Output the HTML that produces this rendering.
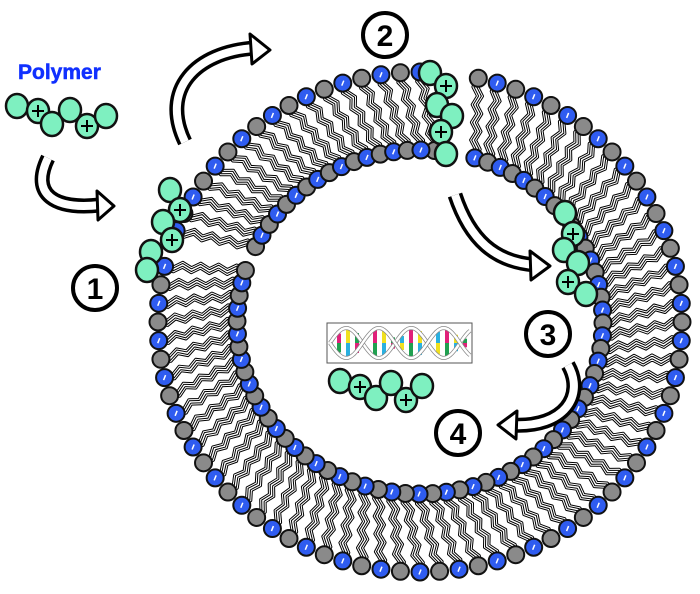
<!DOCTYPE html>
<html><head><meta charset="utf-8"><style>
html,body{margin:0;padding:0;background:#fff;width:700px;height:594px;overflow:hidden}
svg{display:block}
</style></head><body>
<svg id="s" width="700" height="594" viewBox="0 0 700 594" xmlns="http://www.w3.org/2000/svg">
<g id="lip"></g>
<g id="fg">
<g fill="none" stroke-linecap="butt">
<path d="M185,142 C160,90 195,52 255,48" stroke="#000" stroke-width="15"/>
<path d="M185,142 C160,90 195,52 255,48" stroke="#fff" stroke-width="8"/>
<path d="M48,158 C30,195 55,210 100,205" stroke="#000" stroke-width="15"/>
<path d="M48,158 C30,195 55,210 100,205" stroke="#fff" stroke-width="8"/>
<path d="M455,195 C470,240 495,262 535,265" stroke="#000" stroke-width="15"/>
<path d="M455,195 C470,240 495,262 535,265" stroke="#fff" stroke-width="8"/>
<path d="M568,365 C585,395 565,428 512,425" stroke="#000" stroke-width="15"/>
<path d="M568,365 C585,395 565,428 512,425" stroke="#fff" stroke-width="8"/>
</g>
<g fill="#fff" stroke="#000" stroke-width="3" stroke-linejoin="round">
<polygon points="250,34 270,50 252,64"/>
<polygon points="97,191 114,206 98,220"/>
<polygon points="530,251 550,266 531,280"/>
<polygon points="517,411 498,425 516,439"/>
</g>
<g fill="#fff" stroke="#000" stroke-width="4">
<circle cx="95" cy="288" r="22"/>
<circle cx="385" cy="35" r="22"/>
<circle cx="548" cy="334" r="22"/>
<circle cx="458" cy="433" r="22"/>
</g>
<g font-family="Liberation Sans, sans-serif" font-weight="bold" font-size="30" text-anchor="middle">
<text x="95" y="299">1</text>
<text x="385" y="46">2</text>
<text x="548" y="345">3</text>
<text x="458" y="444">4</text>
</g>
<text x="18" y="79" font-family="Liberation Sans, sans-serif" font-weight="bold" font-size="21" fill="#1030ff" stroke="#1030ff" stroke-width="0.5">Polymer</text>
<g>
<rect x="327" y="323" width="145" height="40" fill="#fff" stroke="#555" stroke-width="1"/>
<g id="dna"></g>
</g>
<g id="poly"></g>
</g>
</svg>
<script>
var NS="http://www.w3.org/2000/svg";
function el(p,t,a){var e=document.createElementNS(NS,t);for(var k in a)e.setAttribute(k,a[k]);p.appendChild(e);return e;}
var lip=document.getElementById('lip');
var tails=el(lip,'g',{}),heads=el(lip,'g',{});
var cx=420,cy=322,N=84;
function zig(x1,y1,x2,y2,off){
 var dx=x2-x1,dy=y2-y1,L=Math.hypot(dx,dy),ux=dx/L,uy=dy/L,px=-uy,py=ux,n=9,pts=[];
 for(var j=0;j<=n;j++){var t=j/n,amp=(j==0||j==n)?0:(j%2?2.5:-2.5);
  pts.push((x1+dx*t+px*(amp+off)).toFixed(1)+","+(y1+dy*t+py*(amp+off)).toFixed(1));}
 var s=pts.join(" ");
 el(tails,'polyline',{points:s,fill:'none',stroke:'#000','stroke-width':3,'stroke-linejoin':'round'});
 el(tails,'polyline',{points:s,fill:'none',stroke:'#fff','stroke-width':1});
}
function head(x,y,blue){
 el(heads,'circle',{cx:x,cy:y,r:8.5,fill:blue?'#2f5cf0':'#8a8a8a',stroke:'#111','stroke-width':2});
 if(blue)el(heads,'line',{x1:x-1,y1:y+2.5,x2:x+1,y2:y-2.5,stroke:'#fff','stroke-width':1.5});
}
for(var i=0;i<N;i++){
 var a=-Math.PI/2+2*Math.PI*i/N;
 var deg=a*180/Math.PI;
 if(deg>180)deg-=360;
 if(deg>-165&&deg<-159)continue;
 if(deg>-86&&deg<-80)continue;
 var b=a+0.08;
 var ox=cx+262*Math.cos(a),oy=cy+250*Math.sin(a);
 var ix=cx+183*Math.cos(b),iy=cy+172*Math.sin(b);
 zig(ox,oy,ix,iy,-2.5);zig(ox,oy,ix,iy,2.5);
 head(ox,oy,i%2==0);head(ix,iy,i%2==1);
}
var poly=document.getElementById('poly');
function chain(pts,plus){
 pts.forEach(function(p,k){
  el(poly,'ellipse',{cx:p[0],cy:p[1],rx:11,ry:12,fill:'#7ef0c0',stroke:'#111','stroke-width':2.5});
 });
 plus.forEach(function(k){var p=pts[k];
  el(poly,'path',{d:'M'+(p[0]-6)+','+p[1]+'h12M'+p[0]+','+(p[1]-6)+'v12',stroke:'#000','stroke-width':2});});
}
chain([[17,106],[38,111],[52,124],[70,110],[87,126],[106,116]],[1,4]);
chain([[340,381],[360,387],[376,398],[391,383],[406,400],[422,386]],[1,4]);
chain([[170,190],[180,210],[163,222],[172,240],[151,252],[147,270]],[1,3]);
chain([[430,73],[446,86],[437,105],[452,116],[441,132],[446,154]],[1,4]);
chain([[565,213],[573,234],[564,250],[578,263],[568,282],[586,294]],[1,4]);
var dna=document.getElementById('dna');
var cols=['#2ab0e0','#e0207a','#f0e020','#20a050'];
for(var x=337;x<465;x+=9){
 var ph=(x-330)/65*2*Math.PI,h=Math.abs(Math.sin(ph))*15;
 if(h<4)continue;
 var c=cols[(x/9|0)%4],c2=cols[((x/9|0)+2)%4];
 el(dna,'rect',{x:x,y:343-h,width:4,height:h,fill:c});
 el(dna,'rect',{x:x,y:343,width:4,height:h,fill:c2});
}
var d1="",d2="";
for(var x=330;x<=470;x+=2){var ph=(x-330)/65*2*Math.PI;
 d1+=(x==330?"M":"L")+x+","+(343-15*Math.sin(ph)).toFixed(1);
 d2+=(x==330?"M":"L")+x+","+(343+15*Math.sin(ph)).toFixed(1);}
[d1,d2].forEach(function(d){el(dna,'path',{d:d,fill:'none',stroke:'#888','stroke-width':4});el(dna,'path',{d:d,fill:'none',stroke:'#fff','stroke-width':2.5});});
</script>
</body></html>
